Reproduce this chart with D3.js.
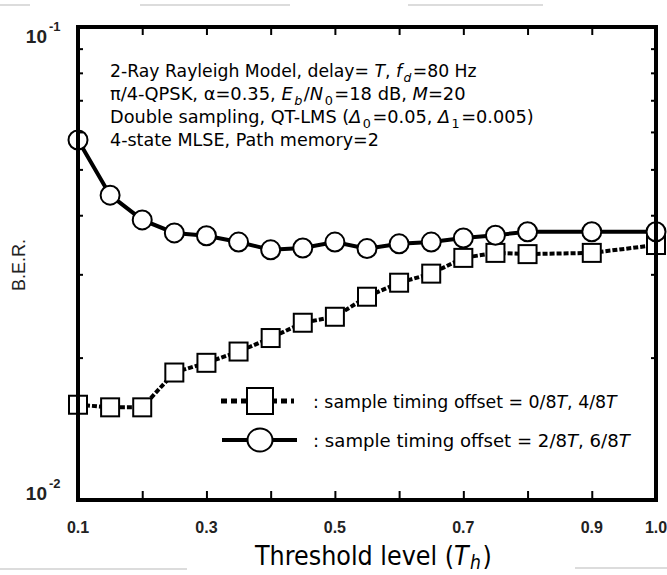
<!DOCTYPE html>
<html><head><meta charset="utf-8">
<script src="https://cdn.jsdelivr.net/npm/d3@7"></script>
<style>body{margin:0;background:#fff}svg{display:block}</style>
</head><body>
<svg id="chart" width="667" height="575"></svg>
<script>
// ---- data ----
const thresholds = [0.1,0.15,0.2,0.25,0.3,0.35,0.4,0.45,0.5,0.55,0.6,0.65,0.7,0.75,0.8,0.9,1.0];
const berOffset26 = [0.0577,0.0441,0.0391,0.0367,0.0362,0.0351,0.0338,0.0341,0.0351,0.0340,0.0348,0.0351,0.0358,0.0363,0.0369,0.0369,0.0369];
const berOffset04 = [0.0159,0.0157,0.0157,0.0186,0.0195,0.0206,0.0220,0.0237,0.0244,0.0269,0.0288,0.0301,0.0325,0.0333,0.0331,0.0333,0.0346];
const xTickLabels = [0.1,0.3,0.5,0.7,0.9,1.0];
const xTickMarks = [0.2,0.3,0.4,0.5,0.6,0.7,0.8,0.9];
const yMinorTicks = [0.02,0.03,0.04,0.05,0.06,0.07,0.08,0.09];
const yTickLabels = [{base:"10",exp:"-1",v:0.1},{base:"10",exp:"-2",v:0.01}];
const annotation = [
  [{t:"2-Ray Rayleigh Model, delay= "},{t:"T",i:1},{t:", "},{t:"f",i:1},{t:"d",i:1,sub:1},{t:"=80 Hz"}],
  [{t:"π/4-QPSK, α=0.35, "},{t:"E",i:1},{t:"b",i:1,sub:1},{t:"/"},{t:"N",i:1},{t:"0",sub:1},{t:"=18 dB, "},{t:"M",i:1},{t:"=20"}],
  [{t:"Double sampling, QT-LMS ("},{t:"Δ",i:1},{t:"0",sub:1},{t:"=0.05, "},{t:"Δ",i:1},{t:"1",sub:1},{t:"=0.005)"}],
  [{t:"4-state MLSE, Path memory=2"}]
];
const legendItems = [
  {marker:"square", label:[{t:": sample timing offset = 0/8"},{t:"T",i:1},{t:", 4/8"},{t:"T",i:1}]},
  {marker:"circle", label:[{t:": sample timing offset = 2/8"},{t:"T",i:1},{t:", 6/8"},{t:"T",i:1}]}
];

const svg = d3.select("#chart");
const L=78, R=656, T=27, B=500;
const x = d3.scaleLinear().domain([0.1,1.0]).range([L,R]);
const y = d3.scaleLog().domain([0.01,0.1]).range([B,T]);
const textFont = "'DejaVu Sans', sans-serif";
const numFont = "'Liberation Sans', Arial, sans-serif";

// scan artifacts (light gray lines)
[[0,30,5],[140,290,5],[408,543,5],[0,187,569],[575,667,568]].forEach(d=>{
  svg.append("line").attr("x1",d[0]).attr("x2",d[1]).attr("y1",d[2]).attr("y2",d[2])
    .attr("stroke","#d0d0d0").attr("stroke-width",1.5);
});

function rich(g, segs, size, subShift){
  const sh = subShift==null ? size*0.28 : subShift;
  const t = g.append("text").attr("font-family",textFont).attr("font-size",size).attr("fill","#000");
  let shifted=false;
  segs.forEach(s=>{
    const sp = t.append("tspan").text(s.t);
    if(s.i) sp.attr("font-style","italic");
    if(s.sub){ sp.attr("font-size",size*0.72); if(!shifted){sp.attr("dy",sh).attr("dx",1.5); shifted=true;} }
    else if(shifted){ sp.attr("dy",-sh).attr("dx",1.5); shifted=false; }
  });
  return t;
}
function fit(t, x0, y0, w){
  const bw = t.node().getComputedTextLength();
  t.attr("transform",`translate(${x0},${y0}) scale(${w/bw},1)`);
}

// lines
const line = d3.line().x((d,i)=>x(thresholds[i])).y(d=>y(d));
svg.append("path").datum(berOffset04).attr("d",line).attr("fill","none")
  .attr("stroke","#000").attr("stroke-width",4).attr("stroke-dasharray","5,2");
svg.append("path").datum(berOffset26).attr("d",line).attr("fill","none")
  .attr("stroke","#000").attr("stroke-width",4);

// markers
svg.append("g").selectAll("rect").data(berOffset04).join("rect")
  .attr("x",(d,i)=>x(thresholds[i])-9).attr("y",d=>y(d)-9).attr("width",18).attr("height",18)
  .attr("fill","#fff").attr("stroke","#000").attr("stroke-width",2);
svg.append("g").selectAll("circle").data(berOffset26).join("circle")
  .attr("cx",(d,i)=>x(thresholds[i])).attr("cy",d=>y(d)).attr("r",9.5)
  .attr("fill","#fff").attr("stroke","#000").attr("stroke-width",2);

// frame
svg.append("rect").attr("x",L).attr("y",T).attr("width",R-L).attr("height",B-T)
  .attr("fill","none").attr("stroke","#000").attr("stroke-width",4);

// ticks via axes
const tickStyle = g=>{ g.select(".domain").remove(); g.selectAll("line").attr("stroke","#000").attr("stroke-width",2); g.selectAll("text").remove(); };
svg.append("g").attr("transform",`translate(0,${B})`).call(d3.axisTop(x).tickValues(xTickMarks).tickSize(9)).call(tickStyle);
svg.append("g").attr("transform",`translate(0,${T})`).call(d3.axisBottom(x).tickValues(xTickMarks).tickSize(8)).call(tickStyle);
svg.append("g").attr("transform",`translate(${L},0)`).call(d3.axisRight(y).tickValues(yMinorTicks).tickSize(5)).call(tickStyle);
svg.append("g").attr("transform",`translate(${R},0)`).call(d3.axisLeft(y).tickValues(yMinorTicks).tickSize(5)).call(tickStyle);

// x tick labels
svg.append("g").selectAll("text").data(xTickLabels).join("text")
  .attr("x",d=>x(d)).attr("y",533).attr("text-anchor","middle")
  .attr("font-family",numFont).attr("font-size",16).attr("font-weight","bold").attr("fill","#222")
  .text(d=>d.toFixed(1));

// y tick labels
yTickLabels.forEach((d,k)=>{
  const by = y(d.v) + (k===0?16:0);
  svg.append("text").attr("x",47).attr("y",by).attr("text-anchor","end")
    .attr("font-family",numFont).attr("font-size",19).attr("font-weight","bold").attr("fill","#222").text(d.base);
  svg.append("text").attr("x",49).attr("y",by-12).attr("font-family",numFont).attr("font-size",13)
    .attr("font-weight","bold").attr("fill","#222").text(d.exp);
});

// y axis title
svg.append("text").attr("transform","translate(25,265) rotate(-90)").attr("text-anchor","middle")
  .attr("font-family",numFont).attr("font-size",18).attr("fill","#222").text("B.E.R.");

// x axis title
const xt = rich(svg, [{t:"Threshold level ("},{t:"T",i:1},{t:"h",i:1,sub:1},{t:")"}], 26, 4);
fit(xt, 255, 565, 234);

// annotation
const annWidths = [364, 350, 418, 269];
const annBase = [77, 100, 123, 146];
annotation.forEach((segs,k)=>{ const t = rich(svg, segs, 18); fit(t, 110, annBase[k], annWidths[k]); });

// legend
const lg = svg.append("g");
const legY = [401, 440];
legendItems.forEach((d,k)=>{
  const yy = legY[k];
  if(d.marker==="square"){
    lg.append("line").attr("x1",221).attr("x2",294).attr("y1",yy).attr("y2",yy)
      .attr("stroke","#000").attr("stroke-width",5).attr("stroke-dasharray","6,4");
    lg.append("rect").attr("x",247).attr("y",yy-13).attr("width",26).attr("height",26)
      .attr("fill","#fff").attr("stroke","#000").attr("stroke-width",2);
  } else {
    lg.append("line").attr("x1",222).attr("x2",297).attr("y1",yy).attr("y2",yy)
      .attr("stroke","#000").attr("stroke-width",4);
    lg.append("ellipse").attr("cx",260).attr("cy",yy).attr("rx",12.5).attr("ry",11.5)
      .attr("fill","#fff").attr("stroke","#000").attr("stroke-width",2);
  }
  const t = rich(lg, d.label, 18);
  fit(t, 313, yy+7, k===0?304:317);
});
</script>
</body></html>
